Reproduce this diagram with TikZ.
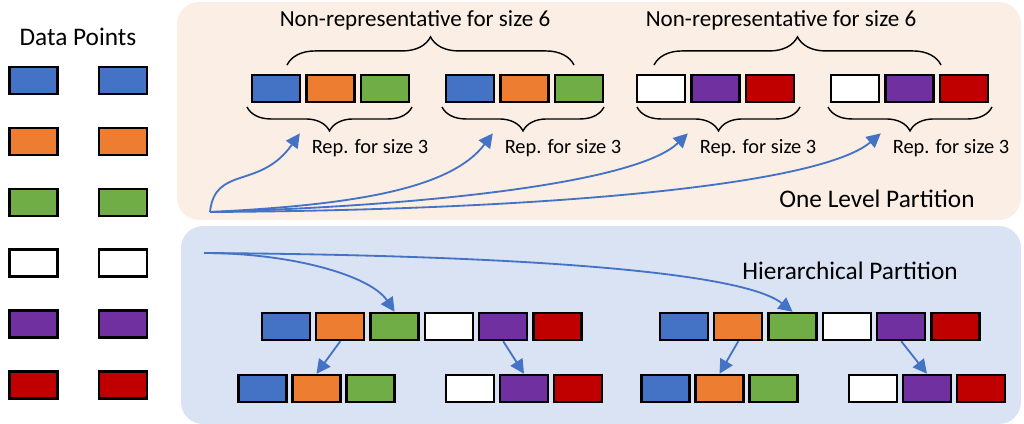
\documentclass[tikz,border=0pt]{standalone}
\usepackage{fontspec}
\setmainfont{Carlito}
\usetikzlibrary{arrows.meta,decorations.pathreplacing}
\definecolor{pt1}{HTML}{4472C4}
\definecolor{pt2}{HTML}{ED7D31}
\definecolor{pt3}{HTML}{70AD47}
\definecolor{pt4}{HTML}{FFFFFF}
\definecolor{pt5}{HTML}{7030A0}
\definecolor{pt6}{HTML}{C00000}
\definecolor{peachbg}{HTML}{FBEEE5}
\definecolor{bluebg}{HTML}{DAE3F3}
\definecolor{linkblue}{HTML}{4472C4}

\begin{document}
\begin{tikzpicture}[
  x=0.025cm,
  y=-0.025cm,
  every node/.style={font=\fontsize{18}{21}\selectfont, black},
  cell/.style={draw=black, line width=1.6pt, minimum width=1.2cm,
               minimum height=0.68cm, inner sep=0pt},
  link/.style={linkblue, line width=1.3pt,
               -{Triangle[length=10pt, width=10pt]}},
  brace/.style={black, line width=1pt, decorate,
                decoration={brace, amplitude=#1}},
  replabel/.style={font=\fontsize{14.5}{17}\selectfont},
  nrlabel/.style={font=\fontsize{16.4}{19}\selectfont}
]
  \useasboundingbox (0,0) rectangle (1024,423);

  % ---- panels ----
  \fill[peachbg, rounded corners=0.55cm] (177,2) rectangle (1021,220);
  \fill[bluebg, rounded corners=0.55cm] (181,226) rectangle (1021,424);

  % ---- data points ----
  \node (dptitle) at (78,37) {Data Points};
  \foreach \k/\y in {1/80.5, 2/141.5, 3/202.5, 4/263, 5/324, 6/385}{
    \node[cell, fill=pt\k] (dpl\k) at (33.5,\y) {};
    \node[cell, fill=pt\k] (dpr\k) at (123,\y) {};
  }

  % ---- one level partition ----
  \foreach \g/\cx/\base in {1/276/0, 2/470/0, 3/661/3, 4/855/3}
    \foreach \k in {1,2,3}{
      \pgfmathtruncatemacro{\c}{\base+\k}
      \node[cell, fill=pt\c] (one\g-\k) at ({\cx+(\k-1)*54.5},88.5) {};
    }

  \draw[brace=20pt] (287,65) -- (574,65);
  \draw[brace=20pt] (654,65) -- (941,65);
  \node[nrlabel] (nonrep1) at (415,20) {Non-representative for size 6};
  \node[nrlabel] (nonrep2) at (781,20) {Non-representative for size 6};

  \draw[brace=17pt] (412,107) -- (247,107);
  \draw[brace=17pt] (604,107) -- (442,107);
  \draw[brace=17pt] (800,107) -- (637,107);
  \draw[brace=17pt] (992,107) -- (828,107);
  \node[replabel] (rep1) at (370,148) {Rep. for size 3};
  \node[replabel] (rep2) at (563,148) {Rep. for size 3};
  \node[replabel] (rep3) at (758,148) {Rep. for size 3};
  \node[replabel] (rep4) at (951,148) {Rep. for size 3};

  \node (onelevel) at (877,199) {One Level Partition};

  % ---- arrows to the representatives ----
  \coordinate (onesrc) at (210,212);
  \draw[link] (onesrc) .. controls (215,165) and (260,190)
    .. ([shift={(-7,-1)}]rep1.north west);
  \draw[link] (onesrc) .. controls (350,205) and (450,190)
    .. ([shift={(-7,-1)}]rep2.north west);
  \draw[link] (onesrc) .. controls (450,205) and (640,180)
    .. ([shift={(-7,-1)}]rep3.north west);
  \draw[link] (onesrc) .. controls (550,210) and (820,185)
    .. ([shift={(-7,-1)}]rep4.north west);

  % ---- hierarchical partition ----
  \node (hierlabel) at (850,271) {Hierarchical Partition};

  \foreach \g/\cx in {A/286, B/684}
    \foreach \k in {1,...,6}
      \node[cell, fill=pt\k] (hier\g-\k) at ({\cx+(\k-1)*54.3},326.5) {};

  \foreach \g/\cx/\base in {AL/262.5/0, AR/470/3, BL/665.5/0, BR/873/3}
    \foreach \k in {1,2,3}{
      \pgfmathtruncatemacro{\c}{\base+\k}
      \node[cell, fill=pt\c] (sub\g-\k) at ({\cx+(\k-1)*54},388.5) {};
    }

  \coordinate (hiersrc) at (204,253);
  \draw[link] (hiersrc) .. controls (290,253) and (370,275) .. (hierA-3.north);
  \draw[link] (hiersrc) .. controls (500,255) and (740,270) .. (hierB-3.north);

  \draw[link] (hierA-2.south) -- (subAL-2.north);
  \draw[link] (hierA-5.south) -- (subAR-2.north);
  \draw[link] (hierB-2.south) -- (subBL-2.north);
  \draw[link] (hierB-5.south) -- (subBR-2.north);
\end{tikzpicture}
\end{document}
